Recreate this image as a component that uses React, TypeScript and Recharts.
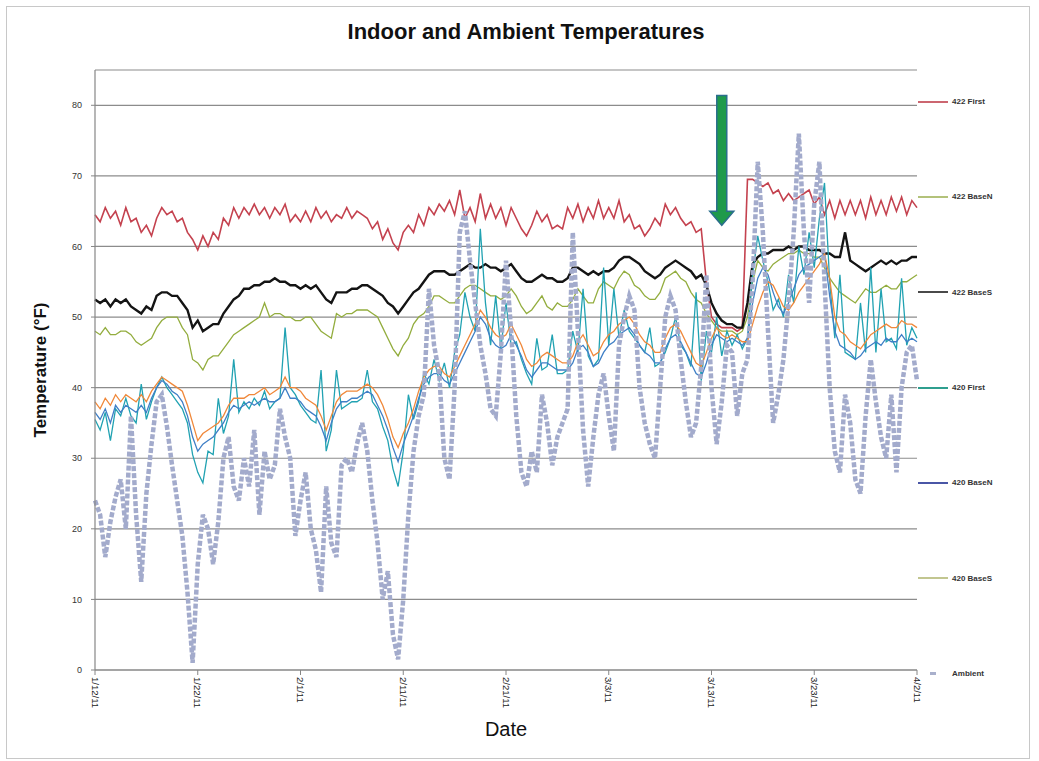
import { LineChart, Line, XAxis, YAxis, CartesianGrid, ReferenceLine } from "recharts"

// one reading every 12 hours, starting 1/12/11 (day 0) through 4/2/11 (day 80)
const dateLabels = ["1/12/11", "1/22/11", "2/1/11", "2/11/11", "2/21/11", "3/3/11", "3/13/11", "3/23/11", "4/2/11"]
const dayTicks = [0, 10, 20, 30, 40, 50, 60, 70, 80]
const tempTicks = [0, 10, 20, 30, 40, 50, 60, 70, 80]

const first422 = [
  64.5,
  63.5, 65.5, 64, 65, 63, 65.5, 63.5, 64, 62, 63, 61.5, 64, 65.5, 64.5, 65, 63.5, 64, 62, 61, 59.5,
  61.5, 60, 62, 61, 64, 63, 65.5, 64, 65.5, 64.5, 66, 64.5, 65.5, 64, 65.5, 64.5, 66, 63.5, 64.5, 63.5,
  65, 63.5, 65.5, 64, 65, 63.5, 64.5, 64, 65.5, 64, 65, 64.5, 64, 62.5, 63.5, 61, 62.5, 60.5, 59.5, 62,
  63, 62, 64.5, 63, 65.5, 64.5, 66, 65, 66.5, 64.5, 68, 64, 65.5, 63.5, 67.5, 64, 66, 64, 65.5, 63,
  65.5, 64, 62.5, 61.5, 63, 65, 63.5, 64.5, 62.5, 63, 62.5, 65.5, 64, 66, 63.5, 65.5, 64, 66.5, 64, 65.5,
  64, 66.5, 63.5, 64.5, 62.5, 63, 61.5, 62.5, 64, 63, 66, 64.5, 65.5, 64, 63, 63.5, 62, 62.5, 55, 50,
  49, 48.5, 48.5, 48.5, 48, 48.5, 69.5, 69.5, 69, 68.5, 69, 67.5, 68, 66.5, 67.5, 66.5, 67, 67.5, 68, 66,
  67, 64.5, 66.5, 64, 66.5, 64.5, 66.5, 64.5, 66.5, 64, 67, 64.5, 66.5, 64.5, 67, 65, 67, 64.5, 66.5, 65.5,
]

const baseN422 = [
  48,
  47.5, 48.5, 47.5, 47.5, 48, 48, 47.5, 46.5, 46, 46.5, 47, 48.5, 49.5, 50, 50, 50, 48.5, 47.5, 44, 43.5,
  42.5, 44, 44.5, 44.5, 45.5, 46.5, 47.5, 48, 48.5, 49, 49.5, 50, 52, 50, 50.5, 50.5, 50, 50, 49.5, 49.5,
  50, 50, 49, 48, 47.5, 47, 50.5, 50, 50.5, 50.5, 51, 51, 51, 50.5, 50, 48.5, 47, 45.5, 44.5, 46,
  47, 49, 50, 50.5, 51.5, 53, 53, 52.5, 52, 52, 53, 54, 54.5, 54.5, 54, 53.5, 53, 53, 52.5, 53,
  54, 53, 51.5, 50.5, 51, 52, 53, 51.5, 51, 52, 51.5, 51.5, 52.5, 54, 53, 52, 52, 54, 55, 54.5,
  54, 55.5, 56.5, 56, 54.5, 54, 53, 52.5, 52.5, 53.5, 55.5, 56, 56.5, 55.5, 55, 53.5, 52.5, 52, 50.5, 49.5,
  48.5, 48, 48, 48, 47.5, 48, 50, 55, 58, 57, 56.5, 57.5, 58, 58.5, 59, 59, 59.5, 59, 59, 58.5,
  58.5, 57, 55.5, 54.5, 53.5, 53, 52.5, 52, 53, 54, 53.5, 53.5, 54, 54.5, 54, 54, 55, 55, 55.5, 56,
]

const baseS422 = [
  52.5,
  52, 52.5, 51.5, 52.5, 52, 52.5, 51.5, 51, 50.5, 51.5, 51, 53, 53.5, 53.5, 53, 53, 52, 51, 48.5, 49.5,
  48, 48.5, 49, 49, 50.5, 51.5, 52.5, 53, 54, 54, 54.5, 54.5, 55, 55, 55.5, 55, 55, 54.5, 54.5, 54,
  54.5, 54, 54.5, 53.5, 52.5, 52, 53.5, 53.5, 53.5, 54, 54, 54.5, 54.5, 54, 53.5, 53, 52, 51.5, 50.5, 51.5,
  52.5, 53.5, 54, 55, 56, 56.5, 56.5, 56.5, 56, 56, 56.5, 57, 57.5, 57, 57, 57.5, 57, 57, 56.5, 57,
  57.5, 56.5, 55.5, 55, 55, 55.5, 56, 55.5, 55.5, 55, 55, 55.5, 57, 57, 56.5, 56, 56.5, 56, 56.5, 56.5,
  57, 58, 58.5, 58.5, 58, 57.5, 56.5, 56, 55.5, 56, 57, 57.5, 58, 57.5, 57, 56.5, 55.5, 56, 54.5, 52,
  50.5, 49.5, 49, 49, 48.5, 48.5, 52, 57.5, 58.5, 59, 59, 59.5, 59.5, 59.5, 60, 59.5, 60, 60, 59.5, 59.5,
  59.5, 59, 59, 58.5, 58.5, 62, 58, 57.5, 57, 56.5, 57, 57.5, 58, 57.5, 58, 57.5, 58, 58, 58.5, 58.5,
]

const first420 = [
  35.5,
  34, 36.5, 32.5, 37, 36, 38.5, 36, 35, 40.5, 35.5, 38, 40, 41.5, 40, 39, 38, 37, 35, 30.5, 28,
  26.5, 31, 30.5, 38.5, 33.5, 36, 44, 36.5, 38, 37, 38.5, 37.5, 39.5, 37, 38, 38.5, 48.5, 40, 39, 37.5,
  36.5, 35.5, 35, 42.5, 31, 34, 42.5, 37, 37.5, 38, 38, 38.5, 42.5, 38, 37, 34.5, 32.5, 28.5, 26, 31,
  39, 35.5, 38, 42, 40.5, 44, 41, 43.5, 40, 45, 47.5, 53.5, 50, 48, 62.5, 52, 46, 53, 45.5, 52,
  46, 46.5, 44, 42, 40.5, 47, 42.5, 43, 47.5, 42, 42, 42.5, 48, 45, 54, 44.5, 43, 44, 57, 46,
  54, 47, 51, 48, 47, 46, 45, 48.5, 43, 43.5, 45, 47, 50, 46, 45, 43, 53.5, 41, 48, 45,
  50, 44.5, 48, 46, 47.5, 45.5, 47, 56, 61.5, 58, 55, 51, 52.5, 50, 56, 52, 60, 56, 62, 57,
  64, 69, 55, 47, 56, 45, 44.5, 44, 52, 45, 57, 45, 54, 46.5, 47, 45.5, 55.5, 46, 48.5, 47,
]

const baseN420 = [
  36.5,
  35.5, 37, 35, 37.5, 36.5, 37.5, 37, 36.5, 37.5, 36.5, 38.5, 40, 41, 40.5, 39.5, 39, 38, 36, 33, 31,
  32, 32.5, 33, 34, 35, 36.5, 37.5, 37, 37.5, 38, 37.5, 38, 38.5, 38, 38, 38.5, 40, 38.5, 38.5, 38,
  37, 36.5, 36, 34.5, 32.5, 35, 37, 38, 38, 38.5, 38.5, 39, 39.5, 39, 37.5, 36, 34, 31.5, 29.5, 32,
  34, 36, 38.5, 40.5, 41.5, 42, 42, 41, 40.5, 42, 43.5, 45, 46.5, 48, 50, 49, 47, 46, 45.5, 46,
  47.5, 46, 44.5, 42.5, 41.5, 42.5, 43.5, 43.5, 43, 42.5, 42.5, 42.5, 43.5, 45.5, 46, 45, 43, 43.5, 45, 46,
  46.5, 47.5, 48, 48.5, 47.5, 46, 45, 44.5, 43.5, 43.5, 45.5, 47, 47.5, 46.5, 45, 43.5, 42, 41.5, 43.5, 46,
  47.5, 47, 46.5, 47, 46.5, 46, 47, 52, 55.5, 57, 56, 53.5, 51.5, 50.5, 52, 54, 56, 57, 57.5, 58,
  58.5, 59, 53, 48, 46, 45.5, 45, 44, 44.5, 45.5, 46, 46.5, 46, 47, 46.5, 46.5, 47.5, 46.5, 47, 46.5,
]

const baseS420 = [
  38,
  37, 38.5, 37.5, 39, 38, 39, 38.5, 38, 39, 38, 39.5, 40.5, 41.5, 41, 40.5, 40, 39.5, 37.5, 35, 32.5,
  33.5, 34, 34.5, 35, 36, 37.5, 38.5, 38.5, 38.5, 39, 39, 39.5, 40, 39, 39.5, 40, 41.5, 40, 40, 39.5,
  38.5, 38, 37.5, 36, 34, 36, 38, 39, 39.5, 39.5, 39.5, 40, 40.5, 40, 39, 37.5, 35.5, 33, 31.5, 33.5,
  35, 37, 39.5, 41.5, 42.5, 43, 43, 42, 41.5, 43, 44.5, 46, 47.5, 49, 51, 50, 48.5, 47.5, 47, 47.5,
  49, 47.5, 46, 44, 43, 43.5, 44.5, 45, 44.5, 44, 43.5, 43.5, 44.5, 46.5, 47.5, 46, 44.5, 45, 46.5, 47.5,
  48, 49, 49.5, 50, 49, 47.5, 46.5, 46, 45, 45, 47, 48.5, 49, 48, 46.5, 45, 43.5, 43, 45, 47,
  48.5, 47.5, 47, 47.5, 47, 46.5, 46.5, 49, 51.5, 53.5, 55, 54.5, 53, 51.5, 51, 52, 53.5, 54.5, 55.5, 56.5,
  57.5, 59, 55.5, 50, 48, 47.5, 46.5, 46, 45.5, 46.5, 47.5, 48, 48.5, 49, 48.5, 48.5, 49.5, 49, 49, 48.5,
]

const ambient = [
  24,
  22, 16, 21, 24.5, 27, 20, 36, 22, 12.5, 25, 32, 38, 39, 34.5, 29, 24, 19, 11, 1, 15,
  22, 20, 15, 21, 30, 33, 26, 24, 30, 26, 34, 22, 31, 27, 29, 37, 33, 30, 19, 24,
  28, 20, 17, 11, 26, 18, 16, 29, 30, 28, 32, 35, 31, 24, 18, 10, 14, 5, 1.5, 10,
  22, 31, 36, 39, 54, 46, 42, 30, 27, 40, 62, 65, 58, 52, 46, 42, 37, 36, 45, 58,
  48, 36, 28, 26, 31, 28, 39, 35, 29, 33, 35, 37, 62, 48, 34, 26, 33, 39, 42, 36,
  31, 46, 50, 53, 51, 40, 35, 32, 30, 40, 50, 53, 51, 44, 38, 33, 35, 43, 56, 40,
  32, 38, 46, 45, 36, 42, 44, 55, 72, 62, 48, 35, 39, 44, 52, 62, 76, 62, 52, 66,
  72, 55, 40, 31, 28, 39, 35, 27, 25, 36, 44, 38, 33, 30, 39, 28, 40, 45, 46, 41,
]

// green arrow marking the event (day, top and tip in °F)
const arrowDay = 61
const arrowTop = 81.4
const arrowTip = 63

const data = first422.map((v, i) => ({
  day: i / 2,
  first422: v,
  baseN422: baseN422[i],
  baseS422: baseS422[i],
  first420: first420[i],
  baseN420: baseN420[i],
  baseS420: baseS420[i],
  ambient: ambient[i],
}))

const SERIES = [
  { key: "first422", name: "422 First", color: "#c4424f", width: 1.6, legend: "#cc6670" },
  { key: "baseN422", name: "422 BaseN", color: "#93ad3e", width: 1.3, legend: "#b3c27a" },
  { key: "baseS422", name: "422 BaseS", color: "#141414", width: 2.4, legend: "#4a4a4a" },
  { key: "first420", name: "420 First", color: "#21a2b2", width: 1.3, legend: "#2f9f8f" },
  { key: "baseN420", name: "420 BaseN", color: "#3f7fc6", width: 1.3, legend: "#4a56a6" },
  { key: "baseS420", name: "420 BaseS", color: "#f0883a", width: 1.3, legend: "#c2c690" },
]

const FONT = "'Liberation Sans', Arial, sans-serif"

function DateTick({ x, y, payload }: any) {
  return (
    <text
      x={x}
      y={y}
      transform={`rotate(90 ${x} ${y})`}
      dy="0.35em"
      fontSize={9.5}
      fontFamily={FONT}
      fill="#222"
      textAnchor="start"
    >
      {dateLabels[dayTicks.indexOf(payload.value)]}
    </text>
  )
}

function Arrow(props: any) {
  const { x1, y1, y2 } = props
  const head = 14
  const shaftW = 5
  const headW = 12
  const yb = y2 - head
  const pts = [
    [x1 - shaftW, y1],
    [x1 + shaftW, y1],
    [x1 + shaftW, yb],
    [x1 + headW, yb],
    [x1, y2],
    [x1 - headW, yb],
    [x1 - shaftW, yb],
  ]
  return (
    <polygon
      points={pts.map((p) => p.join(",")).join(" ")}
      fill="#1f9a4b"
      stroke="#2a6e8c"
      strokeWidth={1.5}
    />
  )
}

export default function App() {
  return (
    <div
      style={{
        position: "fixed",
        left: 0,
        top: 0,
        width: 1039,
        height: 761,
        background: "#fff",
        fontFamily: FONT,
      }}
    >
      <div
        style={{
          position: "absolute",
          left: 6,
          top: 6,
          width: 1024,
          height: 753,
          border: "1px solid #c8c8c8",
          boxSizing: "border-box",
        }}
      />
      <div
        style={{
          position: "absolute",
          left: 0,
          width: 1052,
          top: 19,
          textAlign: "center",
          fontWeight: "bold",
          fontSize: 22,
          color: "#111",
        }}
      >
        Indoor and Ambient Temperatures
      </div>
      <LineChart
        width={1039}
        height={761}
        data={data}
        margin={{ top: 70, right: 122, bottom: 0, left: 0 }}
        style={{ position: "absolute", left: 0, top: 0 }}
      >
        <CartesianGrid horizontal vertical={false} stroke="#8c8c8c" strokeWidth={1.2} />
        <XAxis
          dataKey="day"
          type="number"
          domain={[0, 80]}
          ticks={dayTicks}
          interval={0}
          height={91}
          tick={<DateTick />}
          tickSize={5}
          tickMargin={2}
          axisLine={{ stroke: "#868686", strokeWidth: 1.2 }}
          tickLine={{ stroke: "#868686" }}
          label={{
            value: "Date",
            position: "insideBottom",
            offset: 25,
            style: { fontSize: 20, fill: "#111", fontFamily: FONT },
          }}
        />
        <YAxis
          type="number"
          domain={[0, 85]}
          ticks={tempTicks}
          interval={0}
          width={95}
          tickSize={4}
          tickMargin={9}
          tick={{ fontSize: 9, fill: "#333", fontFamily: FONT }}
          axisLine={{ stroke: "#868686", strokeWidth: 1.2 }}
          tickLine={{ stroke: "#868686" }}
          label={{
            value: "Temperature  (°F)",
            angle: -90,
            position: "insideLeft",
            offset: 40,
            style: { textAnchor: "middle", fontSize: 17, fontWeight: "bold", fill: "#111", fontFamily: FONT },
          }}
        />
        {SERIES.map((s) => (
          <Line
            key={s.key}
            type="linear"
            dataKey={s.key}
            name={s.name}
            stroke={s.color}
            strokeWidth={s.width}
            dot={false}
            activeDot={false}
            isAnimationActive={false}
          />
        ))}
        <Line
          type="linear"
          dataKey="ambient"
          name="Ambient"
          stroke="#a3abcc"
          strokeWidth={4.5}
          strokeDasharray="5 2"
          dot={false}
          activeDot={false}
          isAnimationActive={false}
        />
        <ReferenceLine
          segment={[
            { x: arrowDay, y: arrowTop },
            { x: arrowDay, y: arrowTip },
          ]}
          shape={<Arrow />}
        />
      </LineChart>
      <div style={{ position: "absolute", left: 918, top: 54, width: 115 }}>
        {[...SERIES.map((s) => ({ name: s.name, color: s.legend, dash: false })), { name: "Ambient", color: "#a9b0cc", dash: true }].map(
          (item) => (
            <div key={item.name} style={{ height: 95.3, display: "flex", alignItems: "center" }}>
              {item.dash ? (
                <div style={{ width: 30, display: "flex", justifyContent: "center" }}>
                  <div style={{ width: 6, height: 3, background: item.color }} />
                </div>
              ) : (
                <div style={{ width: 30, height: 2, background: item.color }} />
              )}
              <span style={{ marginLeft: 4, fontSize: 8, color: "#333", fontWeight: "bold" }}>{item.name}</span>
            </div>
          ),
        )}
      </div>
    </div>
  )
}
